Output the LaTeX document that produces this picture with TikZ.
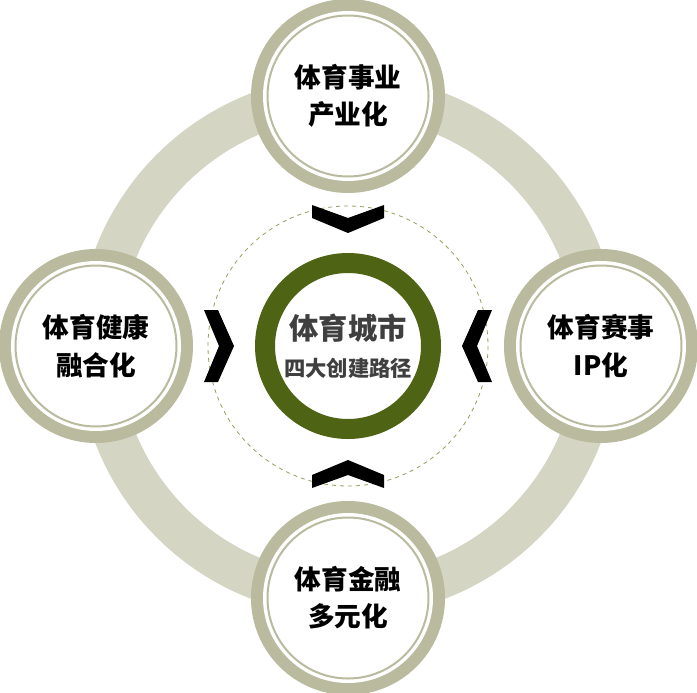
\documentclass[tikz,border=0pt]{standalone}
\usepackage{fontspec}
\newfontfamily\cjk{Noto Sans CJK SC}
\newcommand\cjkbold{\cjk\bfseries}
\definecolor{bigring}{HTML}{D4D6C3}
\definecolor{nodering}{HTML}{B9BA9E}
\definecolor{olive}{HTML}{4E6314}
\definecolor{dashcol}{HTML}{9A9C5A}
\definecolor{ctext}{HTML}{3F3F3F}
\begin{document}
\begin{tikzpicture}[x=0.75pt,y=-0.75pt,
  chev/.style={fill=black}]
\useasboundingbox (0,0) rectangle (697,693);
\draw[bigring,line width=31pt] (348,346) circle (250);
\draw[dashcol,dashed,line width=0.6pt] (348,346) circle (140);
\draw[olive,line width=15pt] (348,346) circle (83);
\node[font=\cjkbold\fontsize{22}{28}\selectfont,text=ctext] (t1) at (348,328) {体育城市};
\node[font=\cjkbold\fontsize{16}{20}\selectfont,text=ctext] (t2) at (348,368) {四大创建路径};
\foreach \n/\x/\y/\t in {top/348/96/{体育事业\\产业化},left/96/346/{体育健康\\融合化},right/601/346/{体育赛事\\IP化},bottom/348/598/{体育金融\\多元化}}{
  \fill[nodering] (\x,\y) circle (97);
  \fill[white] (\x,\y) circle (85);
  \draw[nodering,line width=1.5pt] (\x,\y) circle (80.5);
  \node[font=\cjkbold\fontsize{20}{28}\selectfont,align=center] (\n) at (\x,\y) {\t};
}
% chevrons
\fill[chev] (312,205) -- (348,218) -- (384,205) -- (384,218) -- (348,233) -- (312,218) -- cycle;
\fill[chev] (312,488) -- (348,475) -- (384,488) -- (384,475) -- (348,460) -- (312,475) -- cycle;
\fill[chev] (204,310) -- (219,346) -- (204,382) -- (218,382) -- (234,346) -- (218,310) -- cycle;
\fill[chev] (492,310) -- (477,346) -- (492,382) -- (478,382) -- (462,346) -- (478,310) -- cycle;
\end{tikzpicture}
\end{document}
